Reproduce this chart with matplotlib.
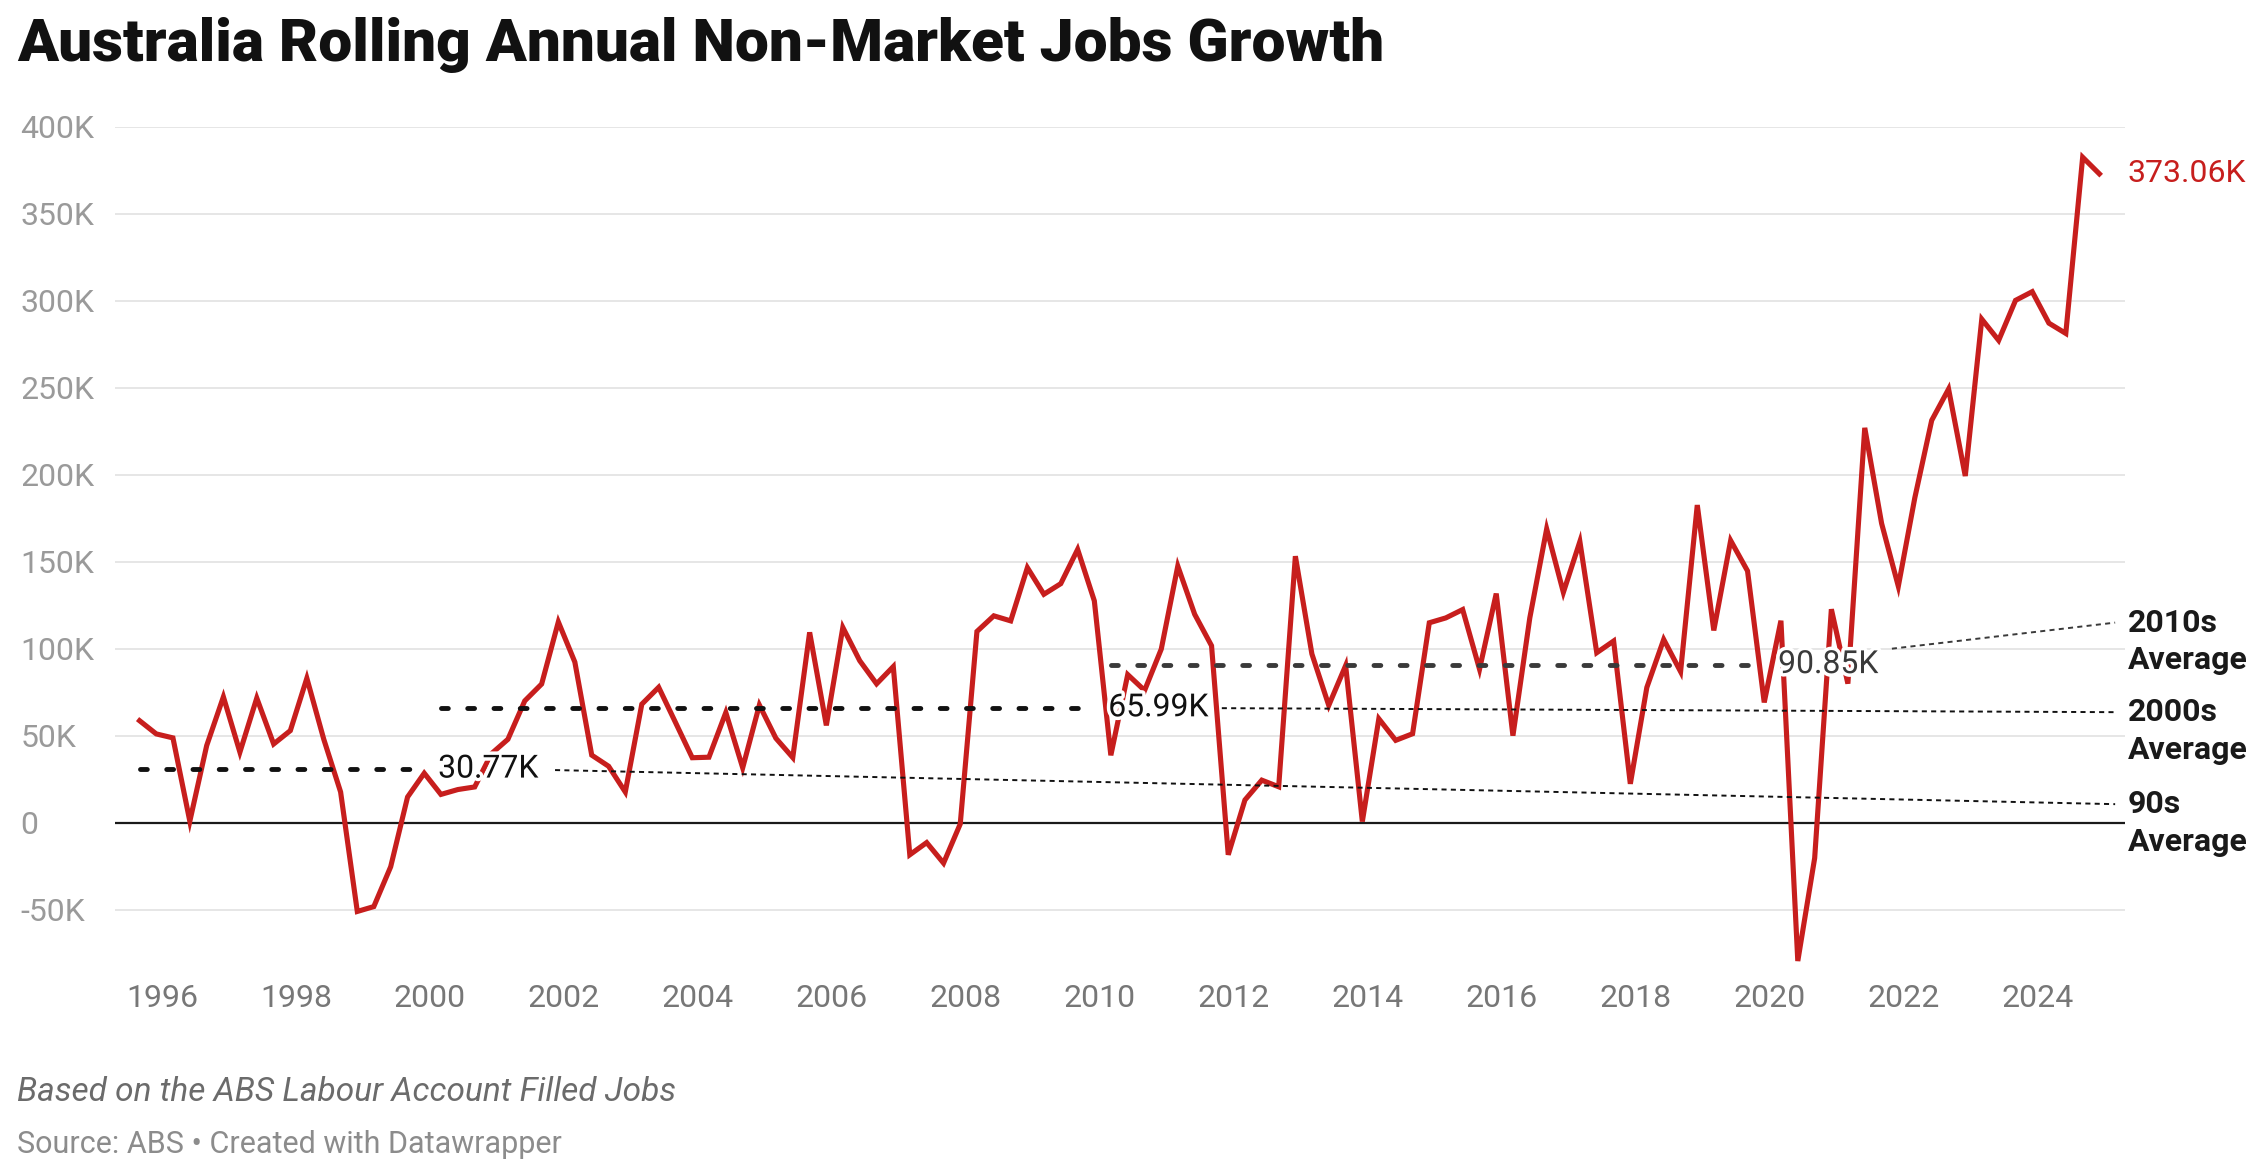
import matplotlib
matplotlib.use("Agg")
import matplotlib.pyplot as plt
import matplotlib.patheffects as pe
from matplotlib.transforms import blended_transform_factory
import pandas as pd

plt.rcParams['font.family'] = ['Roboto', 'DejaVu Sans']

# rolling annual non-market jobs growth, quarterly from Sep 1995 (thousands)
first_quarter = "1995-09-01"
jobs_growth_k = [
    58.6, 51.0, 48.7, 0.8, 44.3, 72.3, 40.5, 71.6, 45.2, 52.9,
    83.0, 48.0, 17.6, -51.1, -48.3, -25.4, 14.7, 28.4, 16.2, 19.0,
    20.5, 39.6, 47.9, 70.0, 79.7, 115.4, 92.3, 38.8, 32.4, 17.6,
    68.1, 77.8, 57.5, 37.3, 37.6, 63.3, 31.5, 67.6, 48.5, 37.4,
    109.4, 55.9, 112.2, 93.1, 79.8, 89.7, -18.5, -11.5, -23.3, -0.8,
    109.9, 118.9, 116.0, 146.6, 131.3, 137.4, 157.1, 127.5, 38.7, 85.1,
    76.0, 99.8, 147.5, 119.8, 101.7, -18.5, 13.0, 24.4, 20.6, 153.2,
    97.0, 67.4, 90.3, 0.6, 59.7, 47.3, 51.1, 114.9, 117.7, 122.5,
    88.2, 131.7, 50.0, 117.7, 168.9, 132.4, 161.6, 97.7, 104.4, 22.3,
    77.7, 105.3, 86.8, 182.6, 110.5, 162.2, 144.7, 69.1, 116.1, -79.6,
    -20.4, 122.7, 79.9, 227.0, 172.0, 135.9, 186.8, 231.3, 249.3, 199.3,
    289.5, 277.3, 300.3, 305.3, 287.2, 281.3, 382.6, 373.06,
]

# decade averages
decades = ["90s", "2000s", "2010s"]
decade_avg_k = [30.77, 65.99, 90.85]
decade_start = ["1995-09-01", "2000-03-01", "2010-03-01"]
decade_end = ["1999-12-01", "2009-12-01", "2019-12-01"]

ytick_values_k = [-50, 0, 50, 100, 150, 200, 250, 300, 350, 400]
ytick_labels = ["-50K", "0", "50K", "100K", "150K", "200K", "250K", "300K", "350K", "400K"]
xtick_years = [1996, 1998, 2000, 2002, 2004, 2006, 2008, 2010,
               2012, 2014, 2016, 2018, 2020, 2022, 2024]

RED = "#c71e1d"

dates = pd.date_range(first_quarter, periods=len(jobs_growth_k), freq="3MS")

fig = plt.figure(figsize=(22.59, 11.63), dpi=100)
ax = fig.add_axes([0.0509, 0.1656, 0.8898, 0.7252])

ax.grid(axis="y", color="#e6e6e6", lw=1.4, zorder=0)
ax.axhline(0, color="#1a1a1a", lw=1.6, zorder=2)

ax.plot(dates, jobs_growth_k, color=RED, lw=3.7, zorder=3, solid_joinstyle="miter")

ax.annotate(f"{jobs_growth_k[-1]:.2f}K", (dates[-1], jobs_growth_k[-1]),
            xytext=(20, 0), textcoords="offset points", va="center", ha="left",
            fontsize=23, color=RED, annotation_clip=False)

# dashed decade average lines with value labels
avg_colors = ["#111111", "#111111", "#3a3a3a"]
for avg, s, e, col in zip(decade_avg_k, decade_start, decade_end, avg_colors):
    ax.plot([pd.Timestamp(s), pd.Timestamp(e)], [avg, avg], color=col, lw=3.5,
            dashes=(1.4, 4.0), dash_capstyle="round", zorder=4)
    ax.annotate(f"{avg:.2f}K", (pd.Timestamp(e), avg), xytext=(10, 0),
                textcoords="offset points", va="center", ha="left", fontsize=23,
                color=col, zorder=6,
                path_effects=[pe.withStroke(linewidth=5, foreground="white")])

# connectors from the value labels to the notes on the right
conn_start = [("2001-11-13", 30.2), ("2011-10-27", 65.8), ("2021-10-27", 100.0)]
conn_end = [("2025-02-25", 10.6), ("2025-02-25", 63.5), ("2025-02-25", 115.0)]
for (s, sy), (e, ey), col in zip(conn_start, conn_end, avg_colors):
    ax.plot([pd.Timestamp(s), pd.Timestamp(e)], [sy, ey], color=col, lw=1.4,
            dashes=(2.6, 2.2), zorder=5, clip_on=False)

trans = blended_transform_factory(ax.transAxes, ax.transData)
for name, (e, ey) in zip(decades, conn_end):
    ax.text(1.0015, ey, f"{name}", transform=trans, fontsize=23, fontweight="bold",
            color="#1a1a1a", va="center", ha="left")
    ax.annotate("Average", (1.0015, ey), xycoords=trans, xytext=(0, -27),
                textcoords="offset points", fontsize=23, fontweight="bold",
                color="#1a1a1a", va="center", ha="left", annotation_clip=False)

ax.set_xlim(pd.Timestamp("1995-04-20"), pd.Timestamp("2025-04-20"))
ax.set_ylim(-85, 400)

ax.set_yticks(ytick_values_k)
ax.set_yticklabels(ytick_labels, ha="left")
ax.tick_params(axis="y", length=0, pad=68, labelsize=23, labelcolor="#9a9a9a")

ax.set_xticks(pd.to_datetime([f"{y}-01-01" for y in xtick_years]))
ax.set_xticklabels([str(y) for y in xtick_years])
ax.tick_params(axis="x", length=0, pad=10, labelsize=23, labelcolor="#777777")

for sp in ax.spines.values():
    sp.set_visible(False)

fig.text(0.0075, 0.961, "Australia Rolling Annual Non-Market Jobs Growth",
         fontsize=43.5, fontweight="heavy", color="#111111", va="center", ha="left")
fig.text(0.0075, 0.061, "Based on the ABS Labour Account Filled Jobs",
         fontsize=24, style="italic", color="#6b6b6b", va="center", ha="left")
fig.text(0.0075, 0.0155, "Source: ABS \u2022 Created with Datawrapper",
         fontsize=22, color="#8c8c8c", va="center", ha="left")

fig.savefig("out.png", dpi=100)
